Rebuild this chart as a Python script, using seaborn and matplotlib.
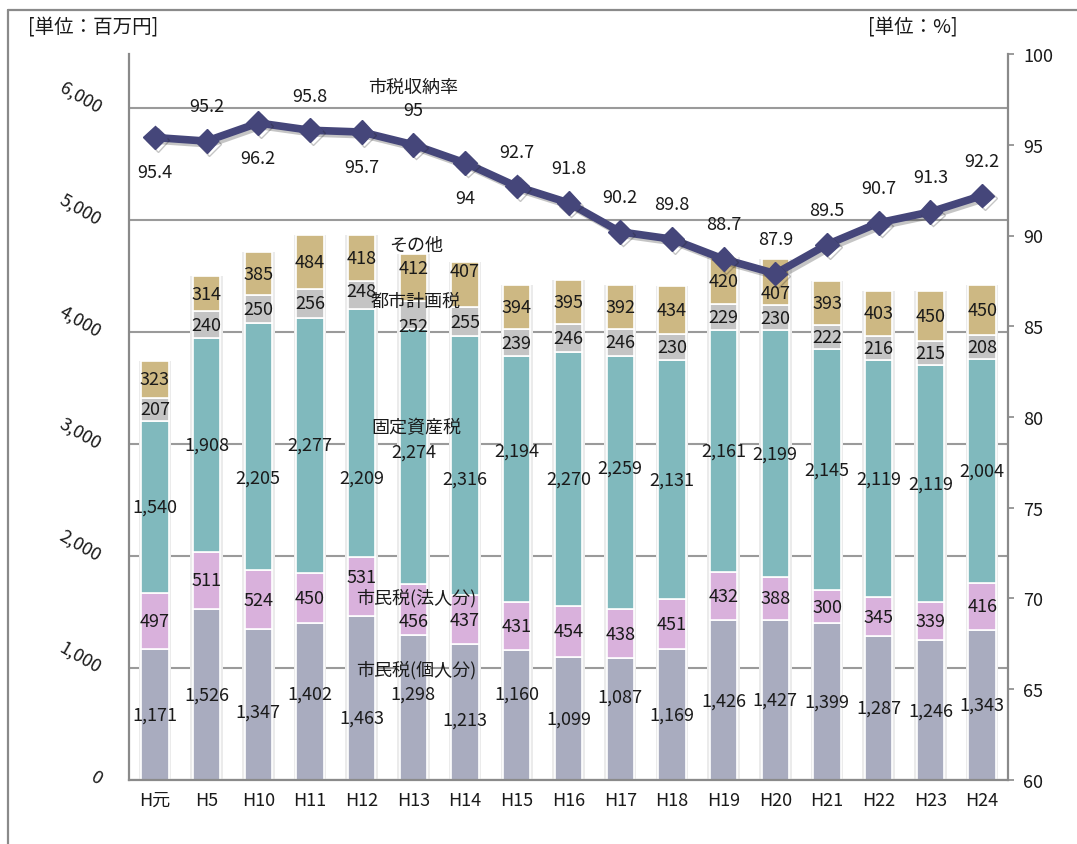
import numpy as np
import pandas as pd
import matplotlib
matplotlib.use("Agg")
import matplotlib.pyplot as plt
import seaborn as sns
from matplotlib import patheffects as pe
from matplotlib.lines import Line2D

# ---------------- data ----------------
years = ["H元", "H5", "H10", "H11", "H12", "H13", "H14", "H15", "H16",
         "H17", "H18", "H19", "H20", "H21", "H22", "H23", "H24"]
individual = [1171, 1526, 1347, 1402, 1463, 1298, 1213, 1160, 1099,
              1087, 1169, 1426, 1427, 1399, 1287, 1246, 1343]
corporate = [497, 511, 524, 450, 531, 456, 437, 431, 454,
             438, 451, 432, 388, 300, 345, 339, 416]
property_tax = [1540, 1908, 2205, 2277, 2209, 2274, 2316, 2194, 2270,
                2259, 2131, 2161, 2199, 2145, 2119, 2119, 2004]
city_planning = [207, 240, 250, 256, 248, 252, 255, 239, 246,
                 246, 230, 229, 230, 222, 216, 215, 208]
other = [323, 314, 385, 484, 418, 412, 407, 394, 395,
         392, 434, 420, 407, 393, 403, 450, 450]
collection_rate = [95.4, 95.2, 96.2, 95.8, 95.7, 95.0, 94.0, 92.7, 91.8,
                   90.2, 89.8, 88.7, 87.9, 89.5, 90.7, 91.3, 92.2]

series_names = ["市民税(個人分)", "市民税(法人分)", "固定資産税", "都市計画税", "その他"]
rate_name = "市税収納率"
left_ticks = [0, 1000, 2000, 3000, 4000, 5000, 6000]
left_tick_labels = ["0", "1,000", "2,000", "3,000", "4,000", "5,000", "6,000"]
right_ticks = [60, 65, 70, 75, 80, 85, 90, 95, 100]
unit_left = "[単位：百万円]"
unit_right = "[単位：%]"

# ---------------- style ----------------
colors = ["#a9acbf", "#d9b1dc", "#80b9bd", "#c4c4c4", "#cdb883"]
line_color = "#45467a"
text_color = "#1a1a1a"
grid_color = "#9a9a9a"
spine_color = "#8a8a8a"
fs = 13

# label nudges in pixels (positive = downwards), mimicking the reference layout
nudge = [
    [0, 0, 7, -8, 20, -14, 8, -21, 0, -23, 0, 0, 0, 0, 0, 0, 0],
    [0, 0, 0, 0, -9, 12, 0, 0, 0, 0, 0, 0, 0, 0, 0, 0, 0],
    [0, 0, 31, 0, 45, -5, 13, -28, 0, -15, 0, 0, 0, 0, 0, 0, 0],
    [0, 0, 0, 0, -4, 11, 0, 0, 0, 0, 0, 0, 0, 0, 0, 0, 0],
    [0, 0, 0, 0, 0, -10, -13, 0, 0, 0, 0, 0, 11, 0, 0, 0, 0],
]
rate_side = [1, -1, 1, -1, 1, -1, 1, -1, -1, -1, -1, -1, -1, -1, -1, -1, -1]

sns.set_theme(style="white")
plt.rcParams["font.family"] = ["Noto Sans CJK JP", "DejaVu Sans"]

W, H = 1077, 845
fig = plt.figure(figsize=(W / 100, H / 100), dpi=100)
ax = fig.add_axes([129 / W, 1 - 781 / H, (1008 - 129) / W, (781 - 55) / H])

series = [individual, corporate, property_tax, city_planning, other]
df = pd.DataFrame({"year": years})
for name, vals in zip(series_names, series):
    df[name] = vals
df["total"] = df[series_names].sum(axis=1)

# soft shadow behind each stack
sns.barplot(data=df, x="year", y="total", order=years, color="#ebebeb",
            saturation=1, width=0.63, ax=ax, zorder=1, linewidth=0)

bottom = np.zeros(len(years))
for i, name in enumerate(series_names):
    vals = df[name].to_numpy()
    sns.barplot(data=df, x="year", y=name, order=years, color=colors[i],
                saturation=1, width=0.53, bottom=bottom, ax=ax, zorder=2,
                edgecolor="white", linewidth=1.2)
    for j, (v, b) in enumerate(zip(vals, bottom)):
        ax.annotate(f"{v:,}", (j, b + v / 2), xytext=(0, -nudge[i][j] * 0.72),
                    textcoords="offset points", ha="center", va="center",
                    fontsize=fs, color=text_color, zorder=6)
    bottom = bottom + vals

ax.set_xlim(-0.5, len(years) - 0.5)
ax.set_ylim(0, 6482)
ax.set_yticks(left_ticks)
ax.set_yticklabels(left_tick_labels, rotation=-30, ha="right", va="center",
                   rotation_mode="anchor", fontsize=fs, color=text_color)
ax.tick_params(axis="y", length=0, pad=21)
ax.tick_params(axis="x", length=0, pad=8, labelsize=fs, labelcolor=text_color)
ax.set_xlabel("")
ax.set_ylabel("")
ax.set_axisbelow(True)
ax.yaxis.grid(True, color=grid_color, linewidth=1.5)
ax.xaxis.grid(False)
for s in ["top", "right"]:
    ax.spines[s].set_visible(False)
for s in ["left", "bottom"]:
    ax.spines[s].set_color(spine_color)
    ax.spines[s].set_linewidth(1.6)

# ---------------- rate line ----------------
ax2 = ax.twinx()
sns.pointplot(x=years, y=collection_rate, order=years, ax=ax2, color=line_color,
              markers="D", errorbar=None, markersize=12, linewidth=5.5,
              markeredgewidth=1)
for ln in ax2.lines:
    ln.set_path_effects([pe.SimpleLineShadow(offset=(2, -2), alpha=0.25),
                         pe.Normal()])
    ln.set_zorder(4)
ax2.set_xlim(-0.5, len(years) - 0.5)
ax2.set_ylim(60, 100)
ax2.set_yticks(right_ticks)
ax2.set_yticklabels([str(t) for t in right_ticks], fontsize=fs, color=text_color)
ax2.tick_params(axis="y", direction="out", length=4, width=1.2,
                color=spine_color, pad=7)
ax2.grid(False)
ax2.set_ylabel("")
for s in ["top", "left", "bottom"]:
    ax2.spines[s].set_visible(False)
ax2.spines["right"].set_color(spine_color)
ax2.spines["right"].set_linewidth(1.6)

for j, v in enumerate(collection_rate):
    ax2.annotate(f"{v:g}", (j, v), xytext=(0, -rate_side[j] * 25),
                 textcoords="offset points", ha="center", va="center",
                 fontsize=fs, color=text_color, zorder=6)

# series name labels (placed at the H13 column like the reference)
ax2.text(5, 98.2, rate_name, ha="center", va="center", fontsize=fs, color=text_color)
name_y = [991, 1634, 3152, 4277, 4777]
for name, yv in zip(series_names, name_y):
    ax.text(5.05, yv, name, ha="center", va="center", fontsize=fs,
            color=text_color, zorder=7)

# units
fig.text(28 / W, 1 - 27 / H, unit_left, ha="left", va="center", fontsize=14,
         color=text_color)
fig.text(958 / W, 1 - 27 / H, unit_right, ha="right", va="center", fontsize=14,
         color=text_color)

# outer frame
fig.add_artist(Line2D([8 / W, 8 / W], [0, 1 - 11 / H], transform=fig.transFigure,
                      color=spine_color, linewidth=1.6))
fig.add_artist(Line2D([8 / W, 1], [1 - 11 / H, 1 - 11 / H], transform=fig.transFigure,
                      color=spine_color, linewidth=1.6))

fig.savefig("out.png", dpi=100)
